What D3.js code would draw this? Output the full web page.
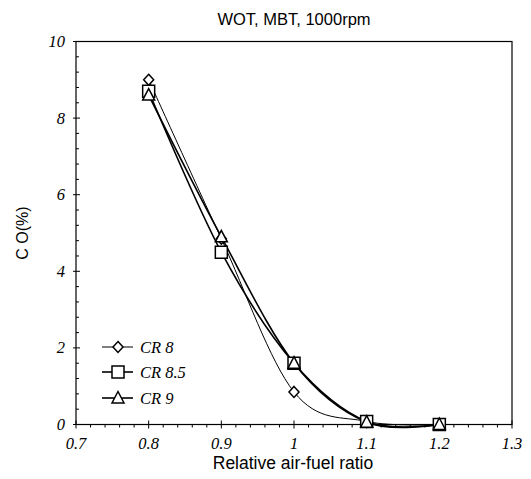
<!DOCTYPE html>
<html>
<head>
<meta charset="utf-8">
<script src="https://cdn.jsdelivr.net/npm/d3@7"></script>
<style>
  body { margin: 0; background: #fff; }
  svg { display: block; }
  .tick-label { font-family: 'Liberation Serif', serif; font-style: italic; font-size: 16.5px; fill: #000; }
  .sans { font-family: 'Liberation Sans', Arial, sans-serif; fill: #000; }
</style>
</head>
<body>
<svg id="chart"></svg>
<script>
const ratio = [0.8, 0.9, 1.0, 1.1, 1.2]
const cr8 = [9.0, 4.85, 0.85, 0.08, 0.0]
const cr85 = [8.7, 4.5, 1.6, 0.08, 0.0]
const cr9 = [8.6, 4.9, 1.6, 0.06, 0.0]
const seriesNames = ['CR 8', 'CR 8.5', 'CR 9']
const xTicks = [0.7, 0.8, 0.9, 1.0, 1.1, 1.2, 1.3]
const yTicks = [0, 2, 4, 6, 8, 10]

const w = 531
const h = 479
const svg = d3.select('#chart').attr('width', w).attr('height', h)

const x = d3.scaleLinear().domain([0.7, 1.3]).range([76, 512])
const y = d3.scaleLinear().domain([0, 10]).range([424.5, 41.5])

// frame
svg.append('rect')
  .attr('x', x(0.7)).attr('y', y(10))
  .attr('width', x(1.3) - x(0.7)).attr('height', y(0) - y(10))
  .attr('fill', 'none').attr('stroke', '#000').attr('stroke-width', 1.2)

// x axis ticks
const xMinor = d3.range(0.72, 1.3, 0.02).filter(v => Math.abs(v * 10 - Math.round(v * 10)) > 0.01)
svg.append('g').selectAll('line').data(xMinor).enter().append('line')
  .attr('x1', d => x(d)).attr('x2', d => x(d))
  .attr('y1', y(0)).attr('y2', y(0) + 3)
  .attr('stroke', '#000')
svg.append('g').selectAll('line').data(xTicks).enter().append('line')
  .attr('x1', d => x(d)).attr('x2', d => x(d))
  .attr('y1', y(0) - 4).attr('y2', y(0) + 4)
  .attr('stroke', '#000')
svg.append('g').selectAll('text').data(xTicks).enter().append('text')
  .attr('class', 'tick-label')
  .attr('x', d => x(d)).attr('y', 449)
  .attr('text-anchor', 'middle')
  .text(d => d === 1 ? '1' : d.toFixed(1))

// y axis ticks
const yMinor = d3.range(0.4, 10, 0.4).filter(v => Math.abs(v / 2 - Math.round(v / 2)) > 0.01)
svg.append('g').selectAll('line').data(yMinor).enter().append('line')
  .attr('x1', x(0.7)).attr('x2', x(0.7) + 3)
  .attr('y1', d => y(d)).attr('y2', d => y(d))
  .attr('stroke', '#000')
svg.append('g').selectAll('line').data(yTicks).enter().append('line')
  .attr('x1', x(0.7) - 3).attr('x2', x(0.7) + 4)
  .attr('y1', d => y(d)).attr('y2', d => y(d))
  .attr('stroke', '#000')
svg.append('g').selectAll('text').data(yTicks).enter().append('text')
  .attr('class', 'tick-label')
  .attr('x', 65).attr('y', d => y(d) + 5.5)
  .attr('text-anchor', 'end')
  .text(d => d)

// titles
svg.append('text').attr('class', 'sans')
  .attr('x', 294).attr('y', 25).attr('text-anchor', 'middle')
  .attr('font-size', 16.5).text('WOT, MBT, 1000rpm')
svg.append('text').attr('class', 'sans')
  .attr('x', 293).attr('y', 469).attr('text-anchor', 'middle')
  .attr('font-size', 17.5).text('Relative air-fuel ratio')
svg.append('text').attr('class', 'sans')
  .attr('transform', 'translate(28, 233) rotate(-90)').attr('text-anchor', 'middle')
  .attr('font-size', 16).text('C O(%)')

// markers
const diamond = (cx, cy) => `M${cx},${cy - 5.5}L${cx + 5},${cy}L${cx},${cy + 5.5}L${cx - 5},${cy}Z`
const square = (cx, cy) => `M${cx - 6},${cy - 6}h12v12h-12Z`
const triangle = (cx, cy) => `M${cx},${cy - 6.5}L${cx + 6},${cy + 5}L${cx - 6},${cy + 5}Z`

const series = [
  { name: seriesNames[0], values: cr8, shape: diamond, width: 1 },
  { name: seriesNames[1], values: cr85, shape: square, width: 1.6 },
  { name: seriesNames[2], values: cr9, shape: triangle, width: 1.6 }
]

const line = d3.line()
  .x((d, i) => x(ratio[i]))
  .y(d => y(d))
  .curve(d3.curveCardinal.tension(0))

series.forEach(s => {
  svg.append('path')
    .attr('d', line(s.values))
    .attr('fill', 'none')
    .attr('stroke', '#000')
    .attr('stroke-width', s.width)
})

series.forEach(s => {
  svg.append('g').selectAll('path').data(s.values).enter().append('path')
    .attr('d', (d, i) => s.shape(x(ratio[i]), y(d)))
    .attr('fill', '#fff')
    .attr('stroke', '#000')
    .attr('stroke-width', 1.5)
})

// legend
const legendY = [347, 372, 398]
series.forEach((s, i) => {
  const g = svg.append('g')
  g.append('line')
    .attr('x1', 102).attr('x2', 133)
    .attr('y1', legendY[i]).attr('y2', legendY[i])
    .attr('stroke', '#000').attr('stroke-width', s.width)
  g.append('path')
    .attr('d', s.shape(118, legendY[i]))
    .attr('fill', '#fff').attr('stroke', '#000').attr('stroke-width', 1.5)
  g.append('text')
    .attr('class', 'tick-label')
    .attr('x', 140).attr('y', legendY[i] + 6)
    .attr('font-size', 19.5)
    .text(s.name)
})
</script>
</body>
</html>
